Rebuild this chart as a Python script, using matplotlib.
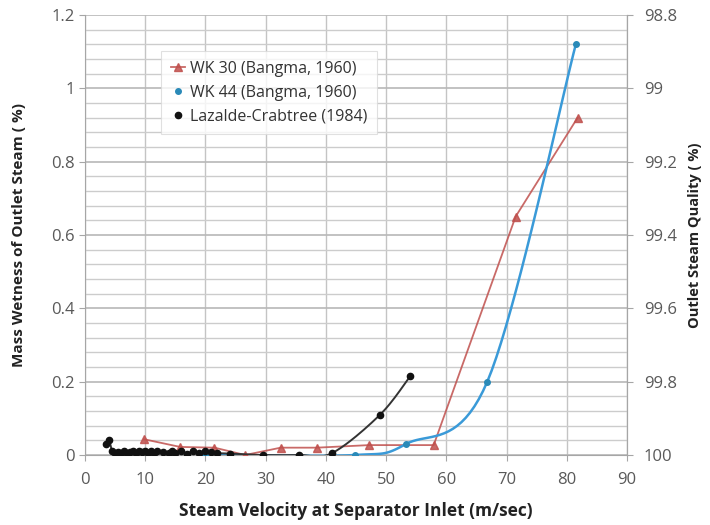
import numpy as np
import matplotlib
matplotlib.use("Agg")
import matplotlib.pyplot as plt

plt.rcParams['font.family'] = ['Open Sans', 'DejaVu Sans']

# ---- data ----
wk30_x = [9.8, 15.8, 21.5, 26.6, 32.5, 38.5, 47.2, 57.9, 71.5, 81.8]
wk30_y = [0.043, 0.022, 0.02, 0.0, 0.02, 0.02, 0.027, 0.027, 0.65, 0.92]

wk44_x = [20.0, 24.0, 44.8, 53.3, 66.8, 81.5]
wk44_y = [0.0, 0.0, 0.0, 0.03, 0.2, 1.12]

lc_x = [3.5, 4.0, 4.5, 5.0, 5.5, 6.0, 6.5, 7.0, 7.5, 8.0, 8.5, 9.0, 9.5, 10.0,
        10.5, 11.0, 11.5, 12.0, 13.0, 14.0, 14.5, 15.0, 16.0, 17.0, 18.0,
        19.0, 20.0, 21.0, 22.0, 24.0, 29.5, 35.5, 41.0, 49.0, 54.0]
lc_y = [0.03, 0.04, 0.01, 0.005, 0.008, 0.005, 0.01, 0.005, 0.008, 0.01,
        0.005, 0.01, 0.008, 0.012, 0.006, 0.01, 0.005, 0.012, 0.008, 0.005,
        0.01, 0.006, 0.01, 0.004, 0.012, 0.005, 0.01, 0.008, 0.005, 0.004,
        0.0, 0.0, 0.005, 0.11, 0.215]

x_ticks = list(range(0, 100, 10))
left_ticks = [0, 0.2, 0.4, 0.6, 0.8, 1.0, 1.2]
left_labels = ["0", "0.2", "0.4", "0.6", "0.8", "1", "1.2"]
left_minor = [0.04, 0.08, 0.12, 0.16, 0.24, 0.28, 0.32, 0.36, 0.44, 0.48,
              0.52, 0.56, 0.64, 0.68, 0.72, 0.76, 0.84, 0.88, 0.92, 0.96,
              1.04, 1.08, 1.12, 1.16]
right_ticks = [98.8, 99.0, 99.2, 99.4, 99.6, 99.8, 100.0]
right_labels = ["98.8", "99", "99.2", "99.4", "99.6", "99.8", "100"]


def smooth(xs, ys, n=20):
    """Catmull-Rom style smoothing through the given points."""
    p = np.column_stack([xs, ys]).astype(float)
    p = np.vstack([p[0], p, p[-1]])
    out = []
    t = np.linspace(0, 1, n, endpoint=False)
    for i in range(1, len(p) - 2):
        p0, p1, p2, p3 = p[i - 1], p[i], p[i + 1], p[i + 2]
        seg = 0.5 * ((2 * p1)[None, :] + (-p0 + p2)[None, :] * t[:, None]
                     + (2 * p0 - 5 * p1 + 4 * p2 - p3)[None, :] * (t ** 2)[:, None]
                     + (-p0 + 3 * p1 - 3 * p2 + p3)[None, :] * (t ** 3)[:, None])
        out.append(seg)
    out.append(p[-2][None, :])
    out = np.vstack(out)
    return out[:, 0], out[:, 1]


red = '#C0504D'
blue = '#3A9AD8'
black = '#111111'
tick_c = '#595959'

fig = plt.figure(figsize=(7.1, 5.25), dpi=100)
ax = fig.add_axes([85 / 710, 70 / 525, 542 / 710, 440 / 525])

ax.set_xlim(0, 90)
ax.set_ylim(0, 1.2)
ax.set_xticks(x_ticks)
ax.set_yticks(left_ticks)
ax.set_yticklabels(left_labels)
ax.tick_params(axis='both', which='major', colors='#A6A6A6', labelcolor=tick_c,
               labelsize=12, length=4)
ax.tick_params(axis='x', pad=8)
ax.xaxis.grid(True, which='major', color='#C4C4C4', lw=1.0)
ax.yaxis.grid(True, which='major', color='#B8B8B8', lw=1.2)
ax.set_axisbelow(True)
# minor horizontal gridlines
ax.hlines(left_minor, 0, 90, colors='#CCCCCC', lw=1.0, zorder=1)
ax.spines['top'].set_visible(False)
for s in ['left', 'bottom', 'right']:
    ax.spines[s].set_color('#A6A6A6')

# WK 30 straight segments
ax.plot(wk30_x, wk30_y, color=red, lw=1.3, alpha=0.85, marker='^', ms=5.5,
        mec=red, mfc=red, label='WK 30 (Bangma, 1960)', zorder=3)

# WK 44 smoothed
bx, by = smooth(wk44_x, wk44_y)
ax.plot(bx, by, color=blue, lw=1.8, zorder=3)
ax.plot(wk44_x, wk44_y, ls='none', marker='o', ms=4, color='#2A8AB8', zorder=4,
        label='WK 44 (Bangma, 1960)')

# Lazalde-Crabtree smoothed
kx, ky = smooth(lc_x, lc_y)
ax.plot(kx, ky, color='#333333', lw=1.4, zorder=4)
ax.plot(lc_x, lc_y, ls='none', marker='o', ms=4.5, color=black, zorder=5,
        label='Lazalde-Crabtree (1984)')

ax.set_xlabel('Steam Velocity at Separator Inlet (m/sec)', fontsize=12.5,
              fontweight='bold', color='#222222', labelpad=10)
ax.set_ylabel('Mass Wetness of Outlet Steam ( %)', fontsize=11,
              fontweight='bold', color='#222222', labelpad=18)

ax2 = ax.twinx()
ax2.set_ylim(100.0, 98.8)
ax2.set_yticks(right_ticks)
ax2.set_yticklabels(right_labels)
for s in ['top', 'left', 'bottom']:
    ax2.spines[s].set_visible(False)
ax2.spines['right'].set_color('#A6A6A6')
ax2.tick_params(axis='y', colors='#A6A6A6', labelcolor=tick_c, labelsize=12,
                length=4, pad=8)
ax2.set_ylabel('Outlet Steam Quality ( %)', fontsize=10.5, fontweight='bold',
               color='#222222', labelpad=8)

leg = ax.legend(loc='upper left', bbox_to_anchor=(68 / 542, 1 - 28 / 440),
                fontsize=11.5, frameon=True, fancybox=False, handlelength=0.9,
                handletextpad=0.3, borderpad=0.6, labelspacing=0.5,
                labelcolor='#333333')
leg.get_frame().set_edgecolor('#D9D9D9')
leg.get_frame().set_linewidth(0.8)

fig.savefig('out.png', dpi=100)
